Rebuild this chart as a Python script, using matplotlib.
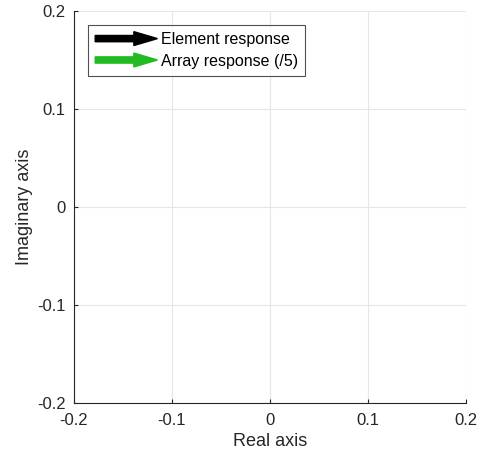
import matplotlib
matplotlib.use("Agg")
import matplotlib.pyplot as plt
import matplotlib.patches as mpatches
from matplotlib.legend_handler import HandlerPatch

plt.rcParams["font.family"] = ["Liberation Sans", "DejaVu Sans"]

# ── Data ──────────────────────────────────────────────────────────────────
AXIS_LIM = [-0.2, 0.2]
TICKS = [-0.2, -0.1, 0, 0.1, 0.2]
TICK_LABELS = ["-0.2", "-0.1", "0", "0.1", "0.2"]
SERIES_LABELS = ["Element response", "Array response (/5)"]
SERIES_COLORS = ["black", "#22bb22"]


def _arrow_handle(legend, orig_handle, xdescent, ydescent, width, height, fontsize):
    y = 0.5 * height - ydescent
    return mpatches.FancyArrow(
        -xdescent, y, width, 0,
        width=4.5, head_width=10, head_length=17,
        length_includes_head=True,
    )


fig = plt.figure(figsize=(4.8, 4.55), dpi=100)
ax = fig.add_axes([74 / 480, 1 - 403 / 455, 392 / 480, 392 / 455])

ax.set_xlim(AXIS_LIM)
ax.set_ylim(AXIS_LIM)
ax.set_xticks(TICKS)
ax.set_xticklabels(TICK_LABELS)
ax.set_yticks(TICKS)
ax.set_yticklabels(TICK_LABELS)
ax.grid(True, color="#e6e6e6", linewidth=0.8)
ax.set_axisbelow(True)
for side in ["top", "right"]:
    ax.spines[side].set_visible(False)
for side in ["left", "bottom"]:
    ax.spines[side].set_color("#262626")
    ax.spines[side].set_linewidth(0.8)
ax.tick_params(direction="in", length=3, width=0.8, colors="#262626",
               labelsize=12)
ax.tick_params(axis="x", pad=7)
ax.tick_params(axis="y", pad=6)
ax.set_xlabel("Real axis", fontsize=13, color="#262626", labelpad=4)
ax.set_ylabel("Imaginary axis", fontsize=13, color="#262626", labelpad=3)

handles = [
    mpatches.FancyArrow(0, 0, 1, 0, color=c, label=l)
    for l, c in zip(SERIES_LABELS, SERIES_COLORS)
]

leg = ax.legend(
    handles=handles,
    handler_map={mpatches.FancyArrow: HandlerPatch(patch_func=_arrow_handle)},
    loc="upper left",
    bbox_to_anchor=(14 / 392, 1 - 14 / 392),
    fontsize=11.5,
    handlelength=3.9,
    handletextpad=0.2,
    labelspacing=0.4,
    borderpad=0.45,
    borderaxespad=0,
    frameon=True,
    fancybox=False,
    edgecolor="#262626",
)
leg.get_frame().set_linewidth(0.8)

fig.savefig("out.png", dpi=100)
